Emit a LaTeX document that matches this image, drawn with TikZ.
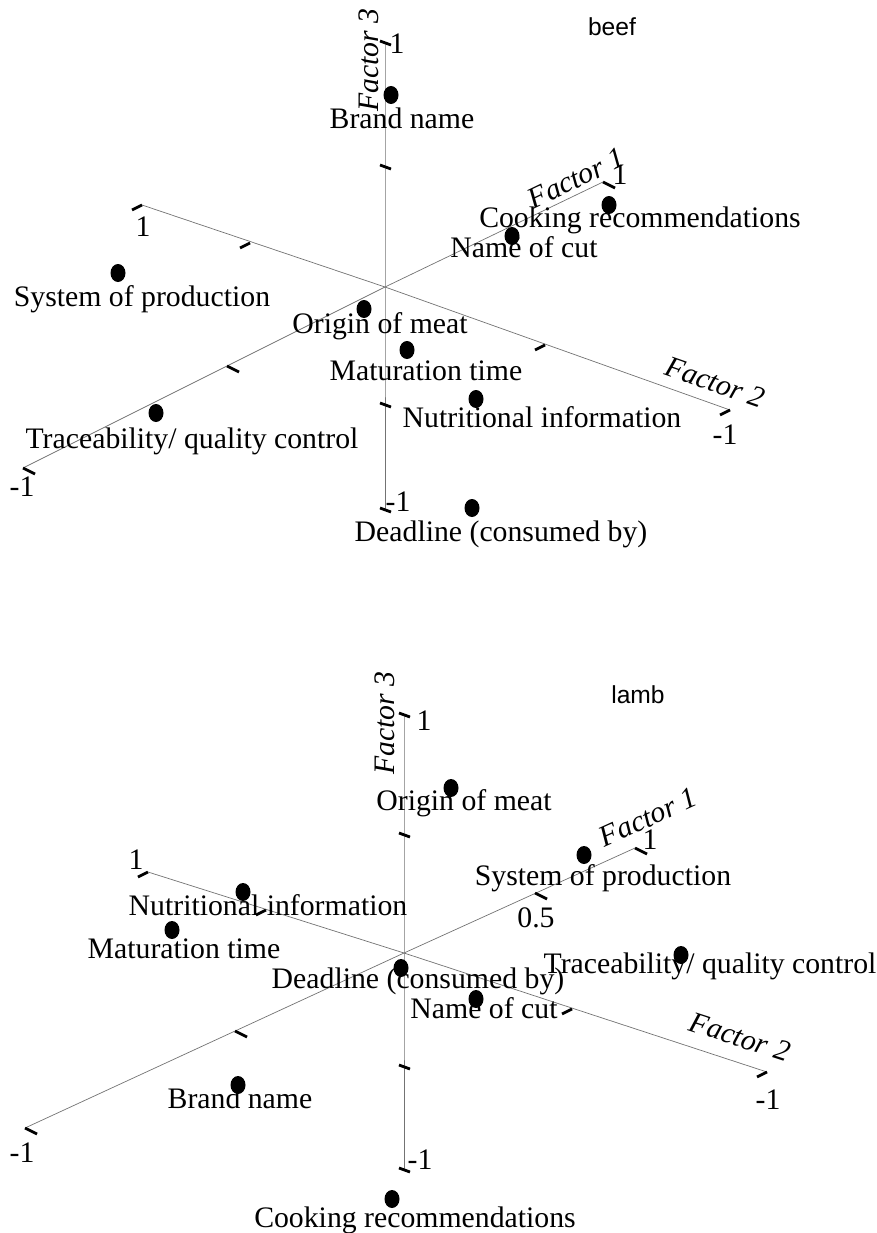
\documentclass[tikz,border=0pt]{standalone}
\usepackage{fontspec}
\setmainfont{Liberation Serif}
\newfontfamily\titlefont{Liberation Sans}
\tikzset{
  axisline/.style={black!55, line width=0.6pt},
  tickmark/.style={black, line width=2.4pt},
  ptlabel/.style={anchor=base, inner sep=0pt},
  ticklabel/.style={inner sep=0pt},
  factorlabel/.style={inner sep=0pt, font=\fontsize{25.4}{28}\selectfont\itshape},
  titlelabel/.style={anchor=base, inner sep=0pt, font=\fontsize{21}{24}\selectfont\titlefont}
}
\begin{document}
\begin{tikzpicture}[x=0.03cm, y=-0.03cm, font=\fontsize{25.4}{28}\selectfont]
\useasboundingbox (0,0) rectangle (877,1233);

% ---- beef ----
\coordinate (bO) at (385,287);
\coordinate (bF1p) at (603,182); \coordinate (bF1n) at (23,468);
\coordinate (bF2p) at (142,205); \coordinate (bF2n) at (730,410);
\coordinate (bF3p) at (385,43);  \coordinate (bF3n) at (385,510);
\draw[axisline] (bF1n) -- (bO) -- (bF1p);
\draw[axisline] (bF2p) -- (bO) -- (bF2n);
\draw[axisline] (bF3p) -- (bO) -- (bF3n);
\foreach \x/\y in {603/182, 507/233, 227/366, 23/468}
  \draw[tickmark] (\x,\y) -- ++(12,6);
\foreach \x/\y in {142/205, 250/243, 545/345, 730/410}
  \draw[tickmark] (\x,\y) -- ++(-10,5);
\foreach \y in {43, 167, 405, 510}
  \draw[tickmark] (385,\y) ++(-5,-2) -- ++(11,4);
\foreach \x/\y/\t [count=\i] in {397/44/1, 143/227/1, 620/175/1, 22/487/-1, 725/435/-1, 398/502/-1}
  \node[ticklabel] (btick\i) at (\x,\y) {\t};
\node[factorlabel, rotate=25.7] (bfactor1) at (576,178) {Factor 1};
\node[factorlabel, rotate=-19.2] (bfactor2) at (715,382) {Factor 2};
\node[factorlabel, rotate=90] (bfactor3) at (369,60) {Factor 3};
\node[titlelabel] (btitle) at (612,36) {beef};
\foreach \dx/\dy/\lx/\ly/\txt [count=\i] in {
    391/95/402/128/Brand name,
    609/205/640/227/Cooking recommendations,
    512/236/524/257/Name of cut,
    118/273/142/306/System of production,
    364/309/380/333/Origin of meat,
    407/350/426/380/Maturation time,
    476/399/542/427/Nutritional information,
    156/413/192/448/{Traceability/ quality control},
    472/508/501/541/Deadline (consumed by)} {
  \fill (\dx,\dy) ellipse [x radius=7.5, y radius=9];
  \node[ptlabel] (beef\i) at (\lx,\ly) {\txt};
}

% ---- lamb ----
\coordinate (lO) at (404,953);
\coordinate (lF1p) at (635,848); \coordinate (lF1n) at (25,1128);
\coordinate (lF2p) at (148,872); \coordinate (lF2n) at (767,1072);
\coordinate (lF3p) at (404,715); \coordinate (lF3n) at (404,1170);
\draw[axisline] (lF1n) -- (lO) -- (lF1p);
\draw[axisline] (lF2p) -- (lO) -- (lF2n);
\draw[axisline] (lF3p) -- (lO) -- (lF3n);
\foreach \x/\y in {635/848, 535/893, 235/1031, 25/1128}
  \draw[tickmark] (\x,\y) -- ++(12,6);
\foreach \x/\y in {148/872, 266/910, 572/1009, 767/1072}
  \draw[tickmark] (\x,\y) -- ++(-10,5);
\foreach \y in {715, 835, 1067, 1170}
  \draw[tickmark] (404,\y) ++(-5,-2) -- ++(11,4);
\foreach \x/\y/\t [count=\i] in {424/721/1, 136/860/1, 650/840/1, 536/918/0.5, 768/1100/-1, 22/1153/-1, 420/1160/-1}
  \node[ticklabel] (ltick\i) at (\x,\y) {\t};
\node[factorlabel, rotate=24.4] (lfactor1) at (648,817) {Factor 1};
\node[factorlabel, rotate=-17.9] (lfactor2) at (740,1037) {Factor 2};
\node[factorlabel, rotate=90] (lfactor3) at (385,723) {Factor 3};
\node[titlelabel] (ltitle) at (638,703) {lamb};
\foreach \dx/\dy/\lx/\ly/\txt [count=\i] in {
    451/788/464/810/Origin of meat,
    584/855/603/885/System of production,
    243/892/268/915/Nutritional information,
    172/930/184/958/Maturation time,
    401/968/418/988/Deadline (consumed by),
    476/999/484/1018/Name of cut,
    681/955/710/973/{Traceability/ quality control},
    238/1085/240/1108/Brand name,
    392/1199/415/1227/Cooking recommendations} {
  \fill (\dx,\dy) ellipse [x radius=7.5, y radius=9];
  \node[ptlabel] (lamb\i) at (\lx,\ly) {\txt};
}
\end{tikzpicture}
\end{document}
